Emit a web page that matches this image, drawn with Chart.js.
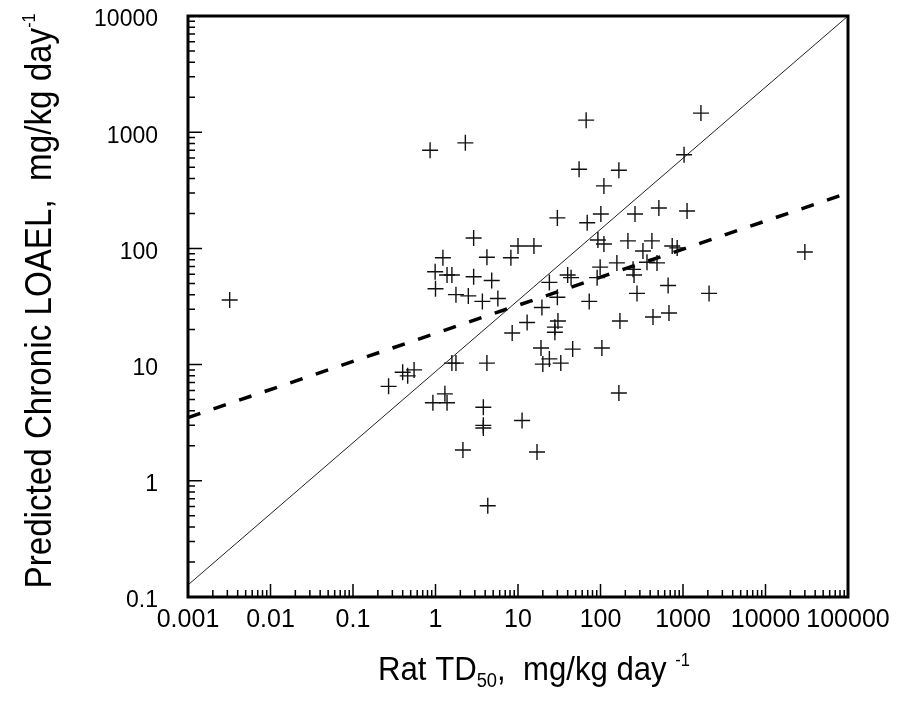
<!DOCTYPE html>
<html>
<head>
<meta charset="utf-8">
<script src="https://cdn.jsdelivr.net/npm/chart.js@4.4.1/dist/chart.umd.min.js"></script>
<style>
html, body { margin: 0; padding: 0; background: #fff; }
</style>
</head>
<body>
<canvas id="myChart" width="899" height="709"></canvas>
<script>
// rat TD50 (x) vs predicted chronic LOAEL (y)
var ratTD50 = [0.0032, 0.86, 2.3, 2.9, 1.23, 4.2, 8.2, 10, 15.6, 0.99,
  1.38, 1.58, 2.9, 4.8, 1.0, 1.77, 2.5, 3.7, 5.7, 30,
  67, 1650, 1030, 55, 167, 110, 69, 101, 262, 510,
  1120, 93, 110, 215, 420, 327, 740, 850, 30000, 366,
  484, 158, 99, 248, 255, 40, 44, 24, 91, 660,
  277, 2070, 30, 73, 19.5, 12.9, 8.5, 30.5, 28, 28,
  172, 433, 676, 19, 46, 104, 20, 24, 33, 167,
  11.2, 17, 0.40, 0.46, 0.55, 0.27, 1.58, 1.77, 4.2, 0.93,
  1.30, 1.38, 3.8, 3.8, 3.8, 2.15, 4.3];
var loael = [36, 700, 810, 123, 83, 84, 83, 105, 105, 63,
  59, 59, 57, 53, 45, 40, 39, 35, 37, 183,
  1270, 1460, 640, 480, 470, 345, 166, 198, 198, 223,
  210, 118, 109, 116, 116, 95, 105, 101, 93, 76,
  75, 75, 69, 66, 59, 59, 56, 51, 56, 48,
  41, 41, 38, 35, 31, 23, 18.7, 23.7, 21, 19,
  23.7, 25.7, 27.8, 13.9, 13.6, 13.9, 10.1, 11.2, 10.3, 5.7,
  3.3, 1.77, 8.6, 8.0, 9.0, 6.5, 10.3, 10.3, 10.3, 4.7,
  5.6, 4.7, 4.3, 3.0, 2.85, 1.84, 0.61];

// solid reference line and dashed regression line (end points)
var solidX = [0.001, 100000];
var solidY = [0.127, 10000];
var dashX = [0.001, 100000];
var dashY = [3.5, 300];

var xTicks = [0.001, 0.01, 0.1, 1, 10, 100, 1000, 10000, 100000];
var xTickLabels = ['0.001', '0.01', '0.1', '1', '10', '100', '1000', '10000', '100000'];
var yTicks = [0.1, 1, 10, 100, 1000, 10000];
var yTickLabels = ['0.1', '1', '10', '100', '1000', '10000'];

function pairs(xs, ys) {
  var out = [];
  for (var i = 0; i < xs.length; i++) out.push({x: xs[i], y: ys[i]});
  return out;
}

function drawTitle(ctx, cx, cy, rot, len, parts) {
  var total = 0;
  for (var i = 0; i < parts.length; i++) {
    ctx.font = parts[i].size + 'px "Liberation Sans", Arial, sans-serif';
    parts[i].w = ctx.measureText(parts[i].t).width;
    total += parts[i].w;
  }
  ctx.save();
  ctx.translate(cx, cy);
  ctx.rotate(rot);
  ctx.scale(len / total, 1);
  ctx.fillStyle = '#000';
  ctx.textBaseline = 'alphabetic';
  ctx.textAlign = 'left';
  var x = -total / 2;
  for (var j = 0; j < parts.length; j++) {
    ctx.font = parts[j].size + 'px "Liberation Sans", Arial, sans-serif';
    ctx.fillText(parts[j].t, x, parts[j].dy || 0);
    x += parts[j].w;
  }
  ctx.restore();
}

var frameTicks = {
  id: 'frameTicks',
  afterDraw: function(chart) {
    var ctx = chart.ctx, a = chart.chartArea;
    var xs = chart.scales.x, ys = chart.scales.y;
    ctx.save();
    ctx.strokeStyle = '#000';
    ctx.lineWidth = 1.5;
    ctx.beginPath();
    for (var e = -3; e < 5; e++) {
      for (var m = 1; m < 10; m++) {
        var px = xs.getPixelForValue(m * Math.pow(10, e));
        var len = m == 1 ? 13 : 7;
        ctx.moveTo(px, a.bottom);
        ctx.lineTo(px, a.bottom - len);
      }
    }
    for (var k = -1; k < 4; k++) {
      for (var n = 1; n < 10; n++) {
        var py = ys.getPixelForValue(n * Math.pow(10, k));
        var l2 = n == 1 ? 14 : 7;
        ctx.moveTo(a.left, py);
        ctx.lineTo(a.left + l2, py);
      }
    }
    ctx.stroke();
    ctx.lineWidth = 3;
    ctx.strokeRect(a.left, a.top, a.right - a.left, a.bottom - a.top);
    ctx.restore();

    drawTitle(ctx, 534, 680, 0, 312, [
      {t: 'Rat TD', size: 34},
      {t: '50', size: 20, dy: 7},
      {t: ',  mg/kg day ', size: 34},
      {t: '-1', size: 18, dy: -14}
    ]);
    drawTitle(ctx, 51, 301, -Math.PI / 2, 575, [
      {t: 'Predicted Chronic LOAEL,  mg/kg day', size: 37},
      {t: '-1', size: 18, dy: -16}
    ]);
  }
};

new Chart('myChart', {
  type: 'scatter',
  data: {
    datasets: [{
      label: 'data',
      data: pairs(ratTD50, loael),
      pointStyle: 'cross',
      pointRadius: 8,
      borderColor: '#111',
      borderWidth: 1.4,
      backgroundColor: '#111'
    }, {
      label: 'line',
      data: pairs(solidX, solidY),
      showLine: true,
      pointRadius: 0,
      borderColor: '#222',
      borderWidth: 1
    }, {
      label: 'fit',
      data: pairs(dashX, dashY),
      showLine: true,
      pointRadius: 0,
      borderColor: '#000',
      borderWidth: 3.5,
      borderDash: [13, 14]
    }]
  },
  options: {
    responsive: false,
    animation: false,
    layout: {autoPadding: false, padding: {left: 0, right: 51, top: 16, bottom: 0}},
    plugins: {legend: {display: false}, tooltip: {enabled: false}},
    scales: {
      x: {
        type: 'logarithmic',
        min: 0.001,
        max: 100000,
        afterBuildTicks: function(s) { s.ticks = xTicks.map(function(v) { return {value: v}; }); },
        afterFit: function(s) { s.height = 112; s.paddingLeft = 0; s.paddingRight = 0; },
        grid: {display: false, drawTicks: false},
        border: {display: false},
        ticks: {
          autoSkip: false,
          maxRotation: 0,
          padding: 8,
          color: '#000',
          font: {family: '"Liberation Sans", Arial, sans-serif', size: 25},
          callback: function(v, i) { return xTickLabels[i]; }
        }
      },
      y: {
        type: 'logarithmic',
        min: 0.1,
        max: 10000,
        afterBuildTicks: function(s) { s.ticks = yTicks.map(function(v) { return {value: v}; }); },
        afterFit: function(s) { s.width = 188; s.paddingTop = 0; s.paddingBottom = 0; },
        grid: {display: false, drawTicks: false},
        border: {display: false},
        ticks: {
          autoSkip: false,
          padding: 30,
          labelOffset: 4,
          color: '#000',
          font: {family: '"Liberation Sans", Arial, sans-serif', size: 23},
          callback: function(v, i) { return yTickLabels[i]; }
        }
      }
    }
  },
  plugins: [frameTicks]
});
</script>
</body>
</html>
